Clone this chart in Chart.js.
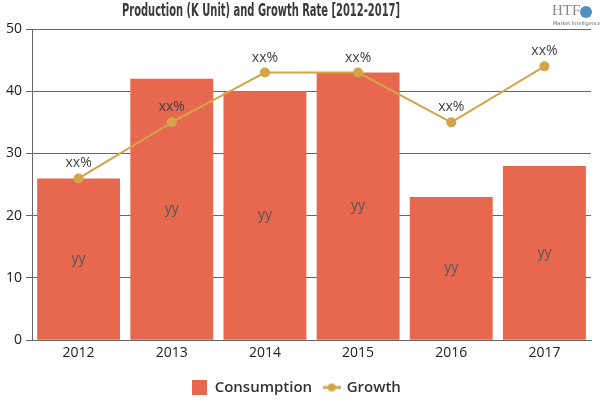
<!DOCTYPE html>
<html>
<head>
<meta charset="utf-8">
<script src="https://cdn.jsdelivr.net/npm/chart.js@4"></script>
<style>
  body { margin: 0; background: #fff; }
  #wrap { width: 600px; height: 400px; }
</style>
</head>
<body>
<div id="wrap"><canvas id="mycanvas"></canvas></div>
<script>
var years = ['2012', '2013', '2014', '2015', '2016', '2017'];
var consumption = [26, 42, 40, 43, 23, 28];
var growth = [26, 35, 43, 43, 35, 44];
var barLabels = ['yy', 'yy', 'yy', 'yy', 'yy', 'yy'];
var lineLabels = ['xx%', 'xx%', 'xx%', 'xx%', 'xx%', 'xx%'];
var titleText = 'Production (K Unit) and Growth Rate [2012-2017]';

var barColor = '#E8684F';
var lineColor = '#D3A44B';

// legend icons
function iconBox() {
	var c = document.createElement('canvas');
	c.width = 15; c.height = 15;
	var g = c.getContext('2d');
	g.fillStyle = barColor;
	g.fillRect(0, 0, 15, 15);
	return c;
}
function iconLine() {
	var c = document.createElement('canvas');
	c.width = 18; c.height = 10;
	var g = c.getContext('2d');
	g.strokeStyle = lineColor;
	g.lineWidth = 3;
	g.beginPath(); g.moveTo(0, 5); g.lineTo(18, 5); g.stroke();
	g.fillStyle = lineColor;
	g.beginPath(); g.arc(9, 5, 4, 0, Math.PI * 2); g.fill();
	return c;
}

var labelPlugin = {
	id: 'labelPlugin',
	afterDatasetsDraw: function(chart) {
		var ctx = chart.ctx;
		ctx.save();
		ctx.font = '14px "Open Sans", "DejaVu Sans", sans-serif';
		ctx.textAlign = 'center';
		ctx.textBaseline = 'middle';
		var bars = chart.getDatasetMeta(1).data;
		ctx.fillStyle = '#555';
		for (var i in bars) {
			var b = bars[i];
			ctx.fillText(barLabels[i], b.x, (b.y + b.base) / 2);
		}
		var pts = chart.getDatasetMeta(0).data;
		ctx.fillStyle = '#444';
		for (var j in pts) {
			var p = pts[j];
			ctx.fillText(lineLabels[j], p.x, p.y - 15);
		}
		ctx.restore();
	},
	afterDraw: function(chart) {
		var ctx = chart.ctx;
		ctx.save();
		// title, squeezed like a condensed display face
		ctx.font = 'bold 17px "DejaVu Sans Condensed", "DejaVu Sans", sans-serif';
		ctx.fillStyle = '#3a3a3a';
		ctx.textAlign = 'center';
		ctx.textBaseline = 'middle';
		var w = ctx.measureText(titleText).width;
		var sx = 278 / w;
		ctx.translate(261, 12);
		ctx.scale(sx, 1);
		ctx.fillText(titleText, 0, 0);
		ctx.restore();
		// logo
		ctx.save();
		ctx.textBaseline = 'middle';
		ctx.fillStyle = '#8a8a8a';
		ctx.font = '15px "Liberation Serif", serif';
		ctx.fillText('HTF', 552, 11);
		ctx.fillStyle = '#4f8fc0';
		ctx.beginPath(); ctx.arc(586, 12, 6, 0, Math.PI * 2); ctx.fill();
		ctx.fillStyle = '#666';
		ctx.font = '5px "DejaVu Sans", sans-serif';
		ctx.fillText('Market Intelligence', 553, 24);
		ctx.restore();
	}
};

var ctx1 = document.getElementById('mycanvas');
var chart = new Chart(ctx1, {
	data: {
		labels: years,
		datasets: [
			{
				type: 'line',
				label: 'Growth',
				data: growth,
				borderColor: lineColor,
				backgroundColor: lineColor,
				borderWidth: 2,
				pointRadius: 4,
				pointHoverRadius: 4,
				tension: 0,
				order: 0
			},
			{
				type: 'bar',
				label: 'Consumption',
				data: consumption,
				backgroundColor: barColor,
				categoryPercentage: 1,
				barPercentage: 0.89,
				order: 1
			}
		]
	},
	options: {
		responsive: true,
		maintainAspectRatio: false,
		animation: false,
		layout: { padding: { left: 2, right: 9, top: 29, bottom: -5 } },
		plugins: {
			title: { display: false },
			legend: {
				position: 'bottom',
				reverse: true,
				labels: {
					usePointStyle: true,
					color: '#333',
					font: { family: '"Open Sans", "DejaVu Sans", sans-serif', size: 15, weight: '600' },
					padding: 12,
					generateLabels: function(chart) {
						var items = Chart.defaults.plugins.legend.labels.generateLabels(chart);
						items.forEach(function(it) {
							it.pointStyle = it.datasetIndex === 1 ? iconBox() : iconLine();
						});
						return items;
					}
				}
			},
			tooltip: { enabled: false }
		},
		scales: {
			x: {
				grid: { display: false, drawTicks: false },
				border: { color: '#666' },
				ticks: { color: '#222', font: { family: '"Open Sans", "DejaVu Sans", sans-serif', size: 14 }, padding: 4 },
				afterFit: function(scale) { scale.height += 3; }
			},
			y: {
				min: 0,
				max: 50,
				ticks: { stepSize: 10, color: '#222', font: { family: '"Open Sans", "DejaVu Sans", sans-serif', size: 14 }, padding: 4 },
				grid: { color: '#666', tickLength: 6 },
				border: { color: '#666' }
			}
		}
	},
	plugins: [labelPlugin]
});
</script>
</body>
</html>
